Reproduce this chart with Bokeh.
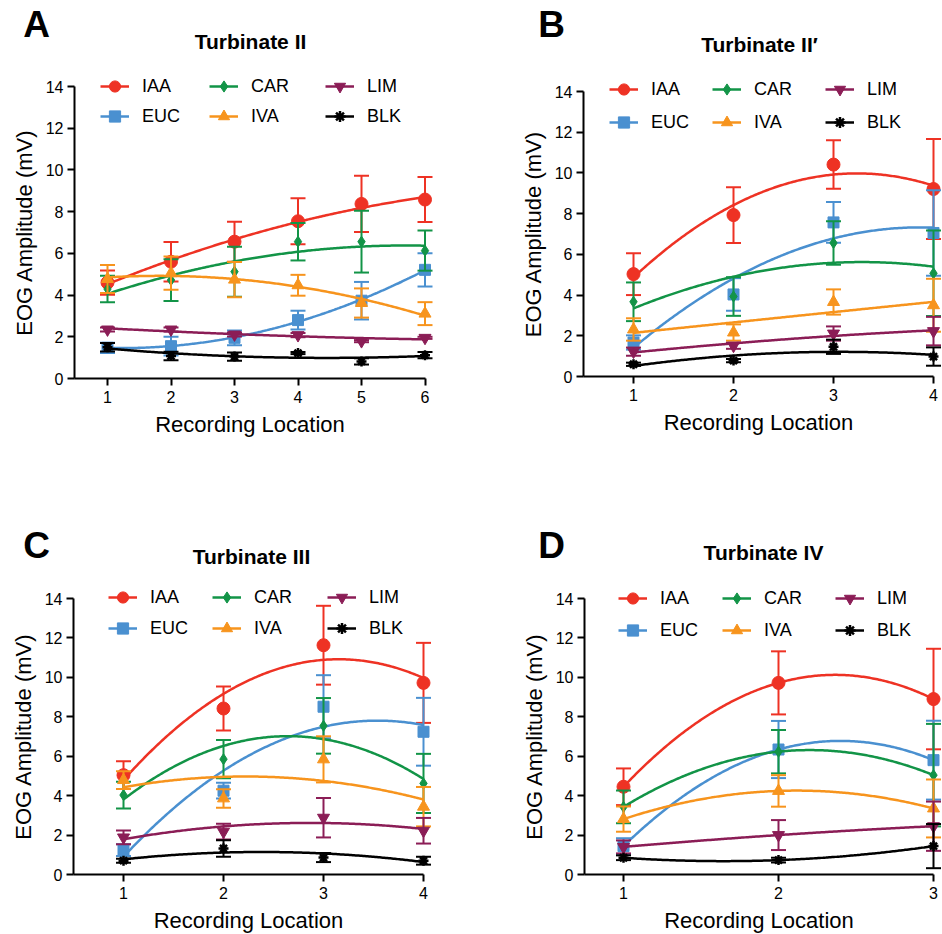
import numpy as np
from bokeh.plotting import figure
from bokeh.models import Range1d, Legend, LegendItem, Label, FixedTicker
from bokeh.layouts import column, row
from bokeh.embed import file_html
from bokeh.resources import INLINE

FONT = "Liberation Sans"

# ---------------- data ----------------
series_names = ["IAA", "EUC", "CAR", "IVA", "LIM", "BLK"]
y_ticks = [0, 2, 4, 6, 8, 10, 12, 14]

# Panel A - Turbinate II
A_x = [1, 2, 3, 4, 5, 6]
A_IAA = [4.6, 5.6, 6.56, 7.54, 8.37, 8.58]
A_IAA_err = [0.58, 0.95, 0.96, 1.1, 1.35, 1.08]
A_EUC = [1.47, 1.55, 1.95, 2.8, 3.73, 5.21]
A_EUC_err = [0.25, 0.45, 0.35, 0.45, 0.9, 0.8]
A_CAR = [4.29, 4.72, 5.12, 6.56, 6.56, 6.13]
A_CAR_err = [0.64, 1.0, 1.2, 0.9, 1.48, 0.96]
A_IVA = [4.77, 5.05, 4.74, 4.47, 3.62, 3.11]
A_IVA_err = [0.67, 0.8, 0.84, 0.5, 0.7, 0.55]
A_LIM = [2.35, 2.35, 2.11, 2.08, 1.79, 1.95]
A_LIM_err = [0.1, 0.1, 0.1, 0.1, 0.05, 0.05]
A_BLK = [1.5, 1.08, 1.05, 1.22, 0.82, 1.12]
A_BLK_err = [0.2, 0.2, 0.2, 0.05, 0.15, 0.15]

# Panel B - Turbinate II'
B_x = [1, 2, 3, 4]
B_IAA = [5.03, 7.93, 10.41, 9.21]
B_IAA_err = [1.03, 1.37, 1.19, 2.46]
B_EUC = [1.67, 4.03, 7.57, 7.05]
B_EUC_err = [0.35, 0.8, 1.0, 2.1]
B_CAR = [3.67, 3.93, 6.56, 5.07]
B_CAR_err = [0.95, 0.95, 1.07, 2.1]
B_IVA = [2.31, 2.16, 3.66, 3.5]
B_IVA_err = [0.55, 0.4, 0.62, 1.3]
B_LIM = [1.22, 1.51, 2.11, 2.23]
B_LIM_err = [0.2, 0.15, 0.35, 0.7]
B_BLK = [0.6, 0.78, 1.46, 0.98]
B_BLK_err = [0.08, 0.08, 0.35, 0.45]

# Panel C - Turbinate III
C_x = [1, 2, 3, 4]
C_IAA = [5.04, 8.42, 11.63, 9.72]
C_IAA_err = [0.7, 1.12, 2.0, 2.03]
C_EUC = [1.24, 4.25, 8.51, 7.24]
C_EUC_err = [0.3, 0.4, 1.6, 1.72]
C_CAR = [4.03, 5.85, 7.54, 4.62]
C_CAR_err = [0.68, 0.97, 1.41, 1.5]
C_IVA = [4.79, 3.86, 5.84, 3.44]
C_IVA_err = [0.45, 0.47, 1.17, 1.0]
C_LIM = [1.88, 2.17, 2.88, 2.22]
C_LIM_err = [0.35, 0.4, 1.0, 0.65]
C_BLK = [0.7, 1.32, 0.86, 0.7]
C_BLK_err = [0.1, 0.42, 0.23, 0.2]

# Panel D - Turbinate IV
D_x = [1, 2, 3]
D_IAA = [4.45, 9.72, 8.9]
D_IAA_err = [0.93, 1.6, 2.55]
D_EUC = [1.44, 6.34, 5.8]
D_EUC_err = [0.4, 1.45, 2.0]
D_CAR = [3.43, 6.23, 5.04]
D_CAR_err = [0.83, 1.1, 2.6]
D_IVA = [2.81, 4.24, 3.35]
D_IVA_err = [0.64, 0.8, 1.47]
D_LIM = [1.4, 2.0, 2.45]
D_LIM_err = [0.33, 0.76, 1.25]
D_BLK = [0.85, 0.73, 1.44]
D_BLK_err = [0.12, 0.12, 1.12]

# ---------------- styles ----------------
STYLE = {
    "IAA": dict(color="#EE3224", marker="circle", size=13),
    "EUC": dict(color="#4A90D0", marker="square", size=11),
    "CAR": dict(color="#129447", marker="diamond", size=11),
    "IVA": dict(color="#F7941D", marker="triangle", size=12),
    "LIM": dict(color="#8B1D56", marker="inverted_triangle", size=12),
    "BLK": dict(color="#000000", marker="asterisk", size=10),
}

W = 471
H = 467


def make_panel(letter, title, xs, data, geom, letter_pos, title_pos,
               legend_xs, legend_vy, legend_spacing):
    # geom: (value of first x tick, its pixel, px per x unit, pixel of y=0 from top,
    #        px per y unit, x value where y axis sits)
    xa, xa_px, kx, y0_px, ky, yaxis_x = geom
    xr = (xa - xa_px / kx, xa + (W - xa_px) / kx)
    yr = (-(H - y0_px) / ky, y0_px / ky)
    p = figure(width=W, height=H, output_backend="svg", toolbar_location=None,
               x_range=Range1d(*xr), y_range=Range1d(*yr),
               min_border_left=0, min_border_right=0,
               min_border_top=0, min_border_bottom=0)
    p.outline_line_color = None
    p.grid.visible = False
    p.background_fill_color = "white"
    p.border_fill_color = "white"

    for ax in (p.xaxis[0], p.yaxis[0]):
        ax.axis_line_width = 2
        ax.axis_line_color = "black"
        ax.major_tick_line_width = 2
        ax.major_tick_line_color = "black"
        ax.major_tick_out = 7
        ax.major_tick_in = 0
        ax.minor_tick_line_color = None
        ax.major_label_text_font = FONT
        ax.major_label_text_font_size = "16px"
        ax.major_label_text_color = "black"
        ax.axis_label_text_font = FONT
        ax.axis_label_text_font_size = "22px"
        ax.axis_label_text_font_style = "normal"
        ax.axis_label_text_color = "black"
    p.xaxis.fixed_location = 0
    p.yaxis.fixed_location = yaxis_x
    p.xaxis.ticker = FixedTicker(ticks=xs)
    p.xaxis.bounds = (yaxis_x, xs[-1])
    p.xaxis.axis_label = "Recording Location"
    p.xaxis.major_label_standoff = 5
    p.xaxis.axis_label_standoff = 6
    p.yaxis.ticker = FixedTicker(ticks=y_ticks)
    p.yaxis.bounds = (0, 14)
    p.yaxis.axis_label = "EOG Amplitude (mV)"
    p.yaxis.major_label_standoff = 4
    p.yaxis.axis_label_standoff = 6

    items = {}
    xfit = np.linspace(xs[0], xs[-1], 200)
    for name in series_names:
        y, err = data[name]
        st = STYLE[name]
        c = st["color"]
        coef = np.polyfit(xs, y, 2)
        curve = p.line(xfit, np.polyval(coef, xfit), line_color=c, line_width=2.5)
        lo = [a - e for a, e in zip(y, err)]
        hi = [a + e for a, e in zip(y, err)]
        p.segment(x0=xs, y0=lo, x1=xs, y1=hi, line_color=c, line_width=2)
        p.scatter(x=list(xs) + list(xs), y=lo + hi, marker="dash", size=15,
                  line_color=c, line_width=2)
        if st["marker"] == "asterisk":
            mk = p.scatter(x=xs, y=y, marker="asterisk", size=st["size"],
                           line_color=c, line_width=2.5)
        else:
            mk = p.scatter(x=xs, y=y, marker=st["marker"], size=st["size"],
                           fill_color=c, line_color=c)
        items[name] = LegendItem(label=name, renderers=[curve, mk])

    groups = [["IAA", "EUC"], ["CAR", "IVA"], ["LIM", "BLK"]]
    for gx, g in zip(legend_xs, groups):
        leg = Legend(items=[items[n] for n in g], location=(gx, legend_vy),
                     orientation="vertical", glyph_width=29, glyph_height=28,
                     label_height=28, label_standoff=13, spacing=legend_spacing,
                     padding=0, margin=0, border_line_alpha=0,
                     background_fill_alpha=0, label_text_font=FONT,
                     label_text_font_size="18px", label_text_color="black")
        p.add_layout(leg)

    p.add_layout(Label(x=letter_pos[0], y=letter_pos[1], x_units="screen",
                       y_units="screen", text=letter, text_font=FONT,
                       text_font_size="37px", text_font_style="bold",
                       text_align="center", text_baseline="middle",
                       text_color="black"))
    p.add_layout(Label(x=title_pos[0], y=title_pos[1], x_units="screen",
                       y_units="screen", text=title, text_font=FONT,
                       text_font_size="21px", text_font_style="bold",
                       text_align="center", text_baseline="middle",
                       text_color="black"))
    return p


def pack(prefix):
    g = globals()
    return {n: (g[f"{prefix}_{n}"], g[f"{prefix}_{n}_err"]) for n in series_names}


pA = make_panel("A", "Turbinate II", A_x, pack("A"),
                (1, 107, 63.5, 378, 292 / 14, 0.48),
                (36, 443), (250, 426), [100, 209, 325], 337, 2)
pB = make_panel("B", "Turbinate II\u2032", B_x, pack("B"),
                (1, 162, 100, 376, 285 / 14, 0.5),
                (80, 443), (288, 423), [138, 241, 354], 331, 5)
pC = make_panel("C", "Turbinate III", C_x, pack("C"),
                (1, 123, 100, 407, 276 / 14, 0.5),
                (36, 389), (251, 378), [108, 212, 327], 292, 3)
pD = make_panel("D", "Turbinate IV", D_x, pack("D"),
                (1, 152, 155, 407, 276 / 14, 0.748),
                (80, 389), (292, 382), [147, 251, 364], 290, 4)

layout = column(row(pA, pB), row(pC, pD))
open("out.html", "w").write(file_html(layout, INLINE))
